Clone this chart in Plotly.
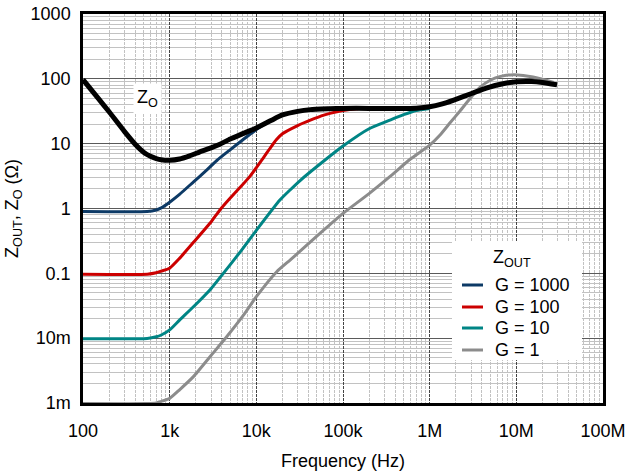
import plotly.graph_objects as go

# ---- data ----
f_zo = [100, 150, 200, 300, 400, 500, 600, 700, 800, 1000, 1300, 1700, 2200, 3000, 3800,
        5000, 7000, 10000, 15000, 20000, 30000, 42000, 70000, 100000, 200000, 400000, 700000,
        1000000, 1400000, 1900000, 3100000, 4500000, 7000000, 10000000, 15000000, 20000000, 29500000]
z_o = [97, 50, 31, 15.5, 9.8, 7.4, 6.4, 5.9, 5.65, 5.55, 5.8, 6.5, 7.4, 8.6, 9.8,
       11.8, 14.3, 17.5, 23, 27.7, 31.5, 33.5, 34.5, 35, 35, 35, 35.3,
       37, 41, 47, 60, 72, 84, 90, 91, 88, 81]

f_g1000 = [100, 550, 700, 800, 1000, 1300, 1900, 2500, 3500, 4900, 7000, 10000, 15000, 20000, 30000]
z_g1000 = [0.9, 0.9, 0.95, 1.02, 1.25, 1.65, 2.6, 3.6, 5.5, 7.9, 11.5, 16.5, 23, 27.5, 31.5]

f_g100 = [100, 550, 700, 800, 1000, 1300, 2000, 3000, 3800, 5000, 8400, 12000, 14400, 17000,
          20000, 30000, 42000, 60000, 85000, 120000, 150000]
z_g100 = [0.097, 0.097, 0.102, 0.108, 0.12, 0.17, 0.33, 0.62, 0.95, 1.45, 3.1, 6.0, 8.5, 11.5,
          14.2, 19, 23, 27.5, 31, 33.5, 34.5]

f_g10 = [100, 550, 700, 800, 1000, 1300, 1880, 3000, 4160, 6800, 10000, 18700, 24500, 32000,
         59000, 100000, 200000, 347000, 500000, 700000, 1000000]
z_g10 = [0.0098, 0.0099, 0.0105, 0.0112, 0.0134, 0.019, 0.0305, 0.058, 0.1, 0.23, 0.46, 1.35,
         1.93, 2.7, 5.3, 9.2, 17.0, 23, 28, 32.5, 35]

f_g1 = [100, 550, 700, 776, 1000, 1300, 1880, 3000, 4550, 7000, 10000, 17200, 24500, 32000,
        55000, 100000, 200000, 347000, 600000, 1000000, 1310000, 1720000, 2240000, 3000000,
        3800000, 5000000, 6400000, 9300000, 12000000, 15600000, 20000000, 27000000]
z_g1 = [0.00098, 0.00098, 0.001, 0.00105, 0.00118, 0.0016, 0.00255, 0.0054, 0.0105, 0.022,
        0.0436, 0.106, 0.16, 0.22, 0.42, 0.84, 1.7, 3.1, 5.8, 9.5, 13.5, 21, 32, 52,
        74, 95, 108, 116, 113, 107, 99, 88]

legend_names = ["G = 1000", "G = 100", "G = 10", "G = 1"]
colors = ["#0d3a66", "#cc0000", "#008585", "#8c8c8c"]

x_tickvals = [1e2, 1e3, 1e4, 1e5, 1e6, 1e7, 1e8]
x_ticktext = ["100", "1k", "10k", "100k", "1M", "10M", "100M"]
y_tickvals = [1e-3, 1e-2, 1e-1, 1, 10, 100, 1000]
y_ticktext = ["1m", "10m", "0.1", "1", "10", "100", "1000"]

FONT = "Liberation Sans, Arial, sans-serif"

# plot area in pixels (for legend placement)
L, R, T, B = 83, 603, 14, 403
def px(xp):
    return (xp - L) / (R - L)
def py(yp):
    return (B - yp) / (B - T)

fig = go.Figure()
data_sets = [(f_g1000, z_g1000), (f_g100, z_g100), (f_g10, z_g10), (f_g1, z_g1)]
for name, (fx, zy), col in zip(legend_names, data_sets, colors):
    fig.add_trace(go.Scatter(x=fx, y=zy, mode="lines", name=name, showlegend=False,
                             line=dict(color=col, width=3, shape="spline", smoothing=0.5)))
fig.add_trace(go.Scatter(x=f_zo, y=z_o, mode="lines", name="ZO", showlegend=False,
                         line=dict(color="black", width=5, shape="spline", smoothing=0.5)))

axis_common = dict(
    type="log", showline=True, linecolor="black", linewidth=2.5, mirror=True,
    ticks="", tickmode="array", automargin=False,
    tickfont=dict(size=18, color="black", family=FONT),
    showgrid=True, gridwidth=1.3, zeroline=False,
    minor=dict(showgrid=True, gridcolor="#c2c2c2", gridwidth=1.1, tickmode="linear",
               dtick="D1", ticks=""),
)

fig.update_xaxes(**axis_common, range=[2, 8], gridcolor="#444444", griddash="3px,1px",
                 tickvals=x_tickvals, ticktext=x_ticktext, ticklabelstandoff=10,
                 title=dict(text="Frequency (Hz)", font=dict(size=18, color="black", family=FONT),
                            standoff=15))
fig.update_yaxes(**axis_common, range=[-3, 3], gridcolor="#5a5a5a",
                 tickvals=y_tickvals, ticktext=y_ticktext, ticklabelstandoff=6,
                 title=dict(text="Z<sub>OUT</sub>, Z<sub>O</sub> (Ω)",
                            font=dict(size=18, color="black", family=FONT), standoff=8))

fig.add_annotation(x=2.74, y=1.7, xref="x", yref="y", text="Z<sub>O</sub>", showarrow=False,
                   bgcolor="white", font=dict(size=18, color="black", family=FONT), borderpad=3)

# legend box (drawn by hand to match the compact reference layout)
fig.add_shape(type="rect", xref="paper", yref="paper", x0=px(452), x1=px(582), y0=py(360), y1=py(242),
              fillcolor="white", line=dict(width=0), layer="above")
fig.add_annotation(xref="paper", yref="paper", x=px(512), y=py(258), text="Z<sub>OUT</sub>",
                   showarrow=False, xanchor="center", yanchor="middle",
                   font=dict(size=18, color="black", family=FONT))
entry_y = [285, 307, 328, 350]
for name, col, ey in zip(legend_names, colors, entry_y):
    fig.add_shape(type="line", xref="paper", yref="paper", x0=px(462), x1=px(483), y0=py(ey), y1=py(ey),
                  line=dict(color=col, width=3), layer="above")
    fig.add_annotation(xref="paper", yref="paper", x=px(493), y=py(ey), text=name, showarrow=False,
                       xanchor="left", yanchor="middle",
                       font=dict(size=18, color="black", family=FONT))

fig.update_layout(
    width=628, height=473,
    margin=dict(l=L, r=628 - R, t=T, b=473 - B),
    paper_bgcolor="white", plot_bgcolor="white",
    font=dict(family=FONT, size=18, color="black"),
    showlegend=False,
)

fig.write_html("out.html")
